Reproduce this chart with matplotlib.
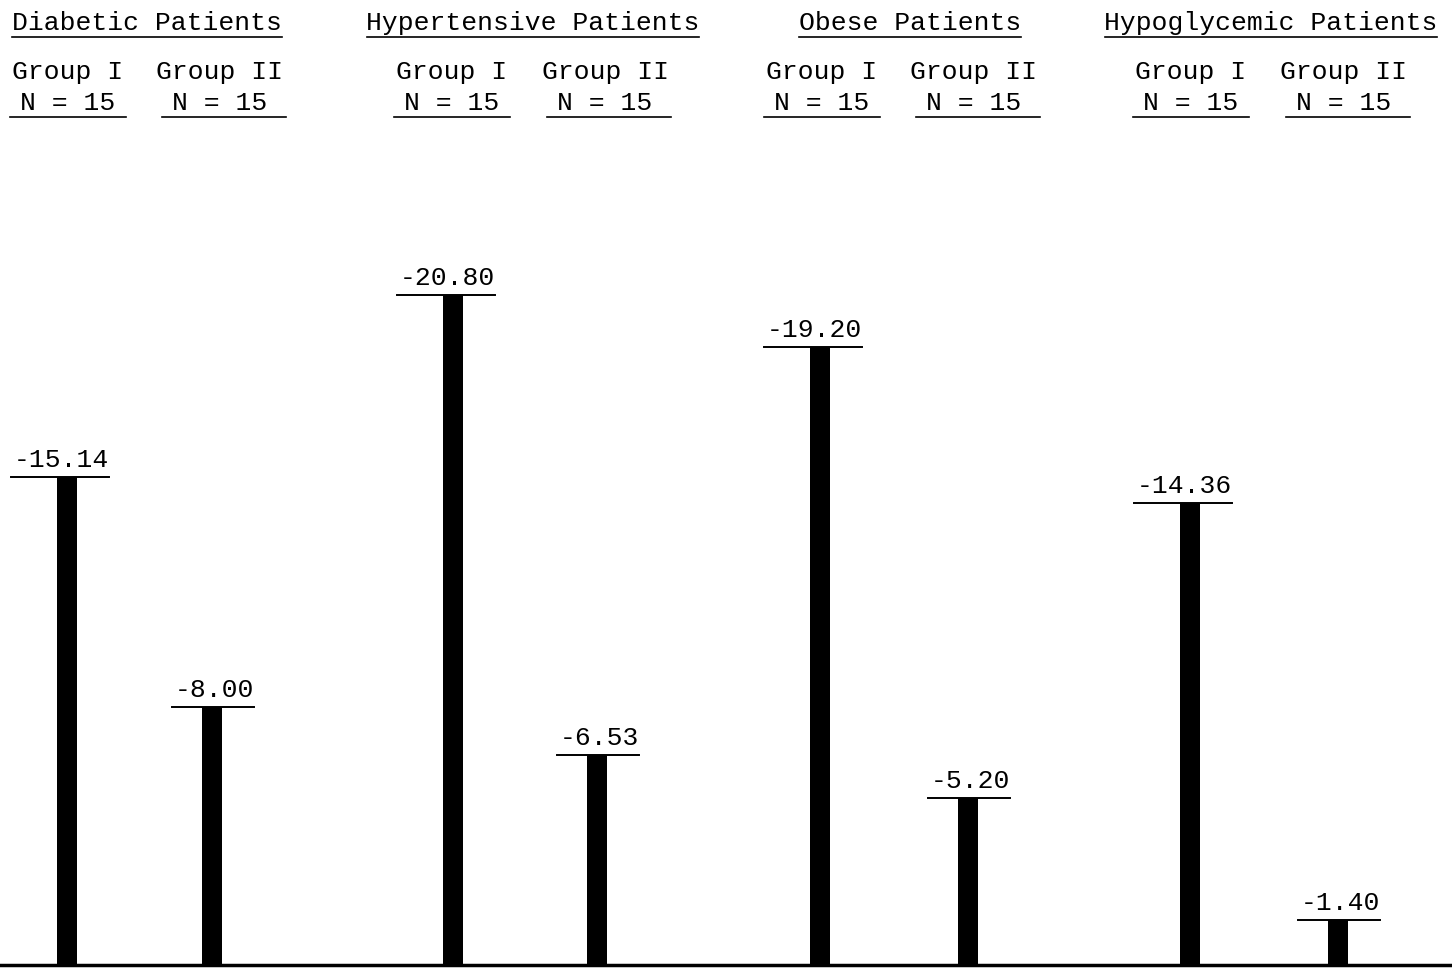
import matplotlib.pyplot as plt
from matplotlib.transforms import blended_transform_factory

# data
categories = ["Diabetic Patients", "Hypertensive Patients", "Obese Patients", "Hypoglycemic Patients"]
groups = ["Group I", "Group II"]
n_label = "N = 15"
values = [-15.14, -8.00, -20.80, -6.53, -19.20, -5.20, -14.36, -1.40]

# layout (pixels of the 1452x968 canvas)
W, H = 1452, 968
bar_x = [67, 212, 453, 597, 820, 968, 1190, 1338]
title_x = [147, 533, 910, 1271]
group_x = [68, 220, 452, 605, 822, 974, 1191, 1344]
font = ["Liberation Mono", "DejaVu Sans Mono"]
fs = 19
cw = 0.6 * fs * 100 / 72  # char width in px

fig = plt.figure(figsize=(W / 100, H / 100), dpi=100)
ax = fig.add_axes([0, 0, 1, 1])
ax.set_xlim(0, W)
k = 32.2  # px per unit
ax.set_ylim(-3 / k, (H - 3) / k)
ax.axis("off")

heights = [abs(v) for v in values]
ax.bar(bar_x, heights, width=20, color="black")
ax.axhline(0, color="black", lw=2.5)

# typewriter style: labels right-aligned a little past the bar
for x, h, v in zip(bar_x, heights, values):
    lab = f"{v:.2f}"
    right = x + 42
    ax.plot([right - len(lab) * cw - 3, right], [h, h], color="black", lw=1.4)
    ax.text(right, h + 5 / k, lab, ha="right", va="bottom",
            fontsize=fs, family=font)

tr = blended_transform_factory(ax.transData, ax.transAxes)

def fy(p):
    return 1 - p / H

for cx, name in zip(title_x, categories):
    ax.text(cx, fy(30), name, ha="center", va="baseline",
            fontsize=fs, family=font, transform=tr)
    half = len(name) * cw / 2
    ax.plot([cx - half, cx + half], [fy(37), fy(37)], color="black",
            lw=1.2, transform=tr)

for i, gx in enumerate(group_x):
    ax.text(gx, fy(79), groups[i % 2], ha="center", va="baseline",
            fontsize=fs, family=font, transform=tr)
    ax.text(gx, fy(110), n_label, ha="center", va="baseline",
            fontsize=fs, family=font, transform=tr)
    ax.plot([gx - 58, gx + 58 + 8 * (i % 2)], [fy(117), fy(117)],
            color="black", lw=1.2, transform=tr)

fig.savefig("out.png", dpi=100)
